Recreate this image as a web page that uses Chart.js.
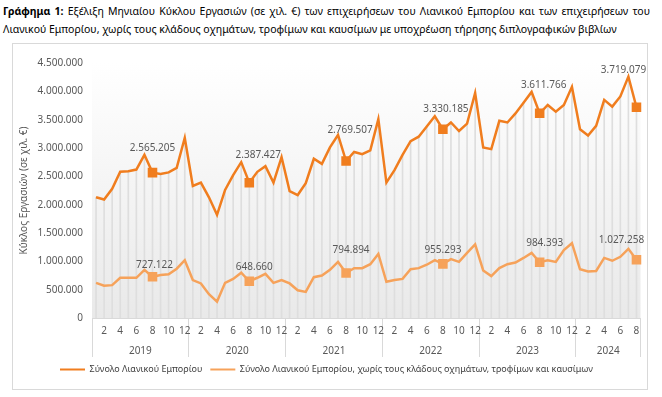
<!DOCTYPE html>
<html>
<head>
<meta charset="utf-8">
<script src="https://cdn.jsdelivr.net/npm/chart.js@4"></script>
<style>
    body { margin: 0; background: #fff; font-family: 'Noto Sans', sans-serif; }
    #title { position: absolute; left: 3px; top: 2px; width: 647px; font-size: 10.5px; line-height: 18px; color: #000; }
    #title .l1 { text-align: justify; text-align-last: justify; }
    #frame { position: absolute; left: 12px; top: 43px; width: 634px; height: 345px; border: 1px solid #d9d9d9; }
    #wrap { position: absolute; left: 12px; top: 43px; width: 636px; height: 347px; }
</style>
</head>
<body>
<div id="title">
    <div class="l1"><b>Γράφημα 1:</b> Εξέλιξη Μηνιαίου Κύκλου Εργασιών (σε χιλ. €) των επιχειρήσεων του Λιανικού Εμπορίου και των επιχειρήσεων του</div>
    <div>Λιανικού Εμπορίου, χωρίς τους κλάδους οχημάτων, τροφίμων και καυσίμων με υποχρέωση τήρησης διπλογραφικών βιβλίων</div>
</div>
<div id="frame"></div>
<div id="wrap"><canvas id="retail-chart" width="636" height="347"></canvas></div>
<script>
// monthly turnover, thousand euro, Jan 2019 - Aug 2024
var years = ['2019', '2020', '2021', '2022', '2023', '2024'];
var monthsInYear = [12, 12, 12, 12, 12, 8];

var retailTotal = [
    2130000, 2090000, 2280000, 2580000, 2590000, 2620000, 2880000, 2565205, 2540000, 2570000, 2650000, 3180000,
    2330000, 2390000, 2130000, 1820000, 2260000, 2520000, 2750000, 2387427, 2580000, 2680000, 2390000, 2840000,
    2240000, 2170000, 2380000, 2810000, 2720000, 3010000, 3230000, 2769507, 2930000, 2890000, 2960000, 3510000,
    2390000, 2610000, 2880000, 3120000, 3200000, 3380000, 3560000, 3330185, 3450000, 3300000, 3430000, 3970000,
    3010000, 2980000, 3480000, 3450000, 3610000, 3800000, 3990000, 3611766, 3760000, 3640000, 3760000, 4080000,
    3330000, 3220000, 3390000, 3850000, 3730000, 3910000, 4260000, 3719079
];
var retailCore = [
    620000, 570000, 580000, 710000, 710000, 710000, 850000, 727122, 760000, 770000, 870000, 1020000,
    670000, 610000, 420000, 290000, 620000, 690000, 800000, 648660, 710000, 780000, 620000, 670000,
    610000, 490000, 460000, 720000, 750000, 850000, 990000, 794894, 880000, 880000, 950000, 1130000,
    640000, 670000, 690000, 860000, 880000, 940000, 1020000, 955293, 1040000, 990000, 1150000, 1300000,
    840000, 740000, 880000, 950000, 980000, 1060000, 1150000, 984393, 1020000, 990000, 1200000, 1320000,
    860000, 820000, 830000, 1060000, 1010000, 1080000, 1220000, 1027258
];
var seriesNames = ['Σύνολο Λιανικού Εμπορίου', 'Σύνολο Λιανικού Εμπορίου, χωρίς τους κλάδους οχημάτων, τροφίμων και καυσίμων'];
var yTitle = 'Κύκλος Εργασιών (σε χιλ. €)';

// label nudges (px) for the August markers
var topShift = [[0, -24], [9, -28], [4, -31], [3, -20], [4, -28], [-13, -37]];
var coreShift = [[2, -12], [5, -14], [5, -23], [0, -14], [5, -19], [-15, -20]];

var months = [], yearRow = [];
for (var y = 0; y < years.length; y++) {
    var mid = months.length + (monthsInYear[y] === 12 ? 5 : 3);
    for (var m = 1; m <= monthsInYear[y]; m++) {
        months.push(m);
        yearRow.push('');
    }
    yearRow[mid] = years[y];
}

function dots(v) {
    return String(v).replace(/\B(?=(\d{3})+(?!\d))/g, '.');
}
function isAug(i) { return i % 12 === 7; }
function yearEdge(c) {
    return (c.index === undefined || c.index % 12 === 0) ? '#d9d9d9' : 'rgba(0,0,0,0)';
}

var backdrop = {
    id: 'backdrop',
    beforeDraw: function (chart) {
        var a = chart.chartArea, ctx = chart.ctx;
        var g = ctx.createLinearGradient(0, a.top, 0, a.bottom);
        g.addColorStop(0, '#ffffff');
        g.addColorStop(1, '#e9e9e9');
        ctx.save();
        ctx.fillStyle = g;
        ctx.fillRect(a.left, a.top, a.right - a.left, a.bottom - a.top);
        ctx.restore();
    }
};

var valueLabels = {
    id: 'valueLabels',
    afterDatasetsDraw: function (chart) {
        var ctx = chart.ctx;
        ctx.save();
        ctx.font = '10px "Noto Sans"';
        ctx.fillStyle = '#595959';
        ctx.textAlign = 'center';
        ctx.textBaseline = 'middle';
        [[0, topShift], [1, coreShift]].forEach(function (s) {
            var meta = chart.getDatasetMeta(s[0]), data = chart.data.datasets[s[0]].data, k = 0;
            meta.data.forEach(function (pt, i) {
                if (!isAug(i)) return;
                ctx.fillText(dots(data[i]), pt.x + s[1][k][0], pt.y + s[1][k][1]);
                k++;
            });
        });
        ctx.restore();
    }
};

var tickFont = { family: 'Noto Sans', size: 10 };

new Chart(document.getElementById('retail-chart'), {
    type: 'line',
    data: {
        labels: months,
        datasets: [
            {
                label: seriesNames[0],
                data: retailTotal,
                borderColor: '#f07d1e',
                backgroundColor: '#f07d1e',
                borderWidth: 2.5,
                pointStyle: 'rect',
                pointRadius: function (c) { return isAug(c.dataIndex) ? 5 : 0; },
                tension: 0,
                order: 0
            },
            {
                label: seriesNames[1],
                data: retailCore,
                borderColor: '#f6a25a',
                backgroundColor: '#f6a25a',
                borderWidth: 2.5,
                pointStyle: 'rect',
                pointRadius: function (c) { return isAug(c.dataIndex) ? 5 : 0; },
                tension: 0,
                order: 1
            },
            {
                // drop lines
                type: 'bar',
                label: 'drop',
                data: retailTotal,
                backgroundColor: '#dedede',
                barThickness: 1,
                order: 2
            }
        ]
    },
    options: {
        responsive: false,
        animation: false,
        layout: { padding: { top: 20, right: 7, left: 0, bottom: 6 } },
        plugins: {
            tooltip: { enabled: false },
            legend: {
                position: 'bottom',
                labels: {
                    boxWidth: 25,
                    boxHeight: 2,
                    padding: 8,
                    color: '#404040',
                    font: { family: 'Noto Sans', size: 9 },
                    generateLabels: function (chart) {
                        return Chart.defaults.plugins.legend.labels.generateLabels(chart)
                            .filter(function (l) { return l.datasetIndex < 2; })
                            .map(function (l) { l.lineWidth = 0; return l; });
                    }
                }
            }
        },
        scales: {
            x: {
                type: 'category',
                offset: true,
                grid: { offset: true, drawOnChartArea: false, tickLength: 20, color: yearEdge },
                border: { color: '#d9d9d9' },
                ticks: {
                    autoSkip: false,
                    maxRotation: 0,
                    padding: -13,
                    color: '#595959',
                    font: tickFont,
                    callback: function (v, i) { return months[i] % 2 === 0 ? months[i] : ''; }
                },
                afterFit: function (s) { s.height = 20; }
            },
            x2: {
                type: 'category',
                position: 'bottom',
                labels: yearRow,
                offset: true,
                grid: { offset: true, drawOnChartArea: false, tickLength: 19, color: yearEdge },
                border: { display: false },
                ticks: {
                    autoSkip: false,
                    maxRotation: 0,
                    padding: -12,
                    labelOffset: 4,
                    color: '#595959',
                    font: tickFont
                },
                afterFit: function (s) { s.height = 19; }
            },
            y: {
                min: 0,
                max: 4500000,
                grid: { display: false, drawTicks: false },
                border: { display: false },
                ticks: {
                    stepSize: 500000,
                    padding: 9,
                    color: '#595959',
                    font: tickFont,
                    callback: function (v) { return dots(v); }
                },
                title: { display: true, text: yTitle, color: '#595959', font: tickFont, padding: 6 },
                afterFit: function (s) { s.width = 80; }
            }
        }
    },
    plugins: [backdrop, valueLabels]
});
</script>
</body>
</html>
